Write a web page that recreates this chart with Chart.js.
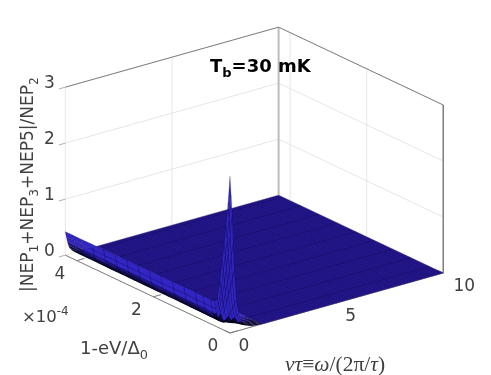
<!DOCTYPE html>
<html>
<head>
<meta charset="utf-8">
<style>
  html, body { margin: 0; padding: 0; background: #fff; }
  canvas { display: block; }
</style>
<script src="https://cdn.jsdelivr.net/npm/chart.js@4"></script>
</head>
<body>
<canvas id="surfaceChart" width="491" height="375"></canvas>
<script>
const nuTicks = [0, 5, 10];
const gapTicks = [0, 2, 4];
const nepTicks = [0, 1, 2, 3];
const nuMax = 10;
const gapMax = 4.3;
const nepMax = 3;

// columns and rows of the part of the surface that lifts off the floor
const wallNu = [0, 0.05, 0.1, 0.15, 0.2, 0.3, 0.4, 0.55, 0.75, 1, 1.5];
const wallGap = [0, 0.05, 0.1, 0.15, 0.2, 0.26, 0.33, 0.4, 0.5, 0.7, 0.9, 1.2, 1.5, 1.8, 2.1, 2.4, 2.7, 3, 3.3, 3.6, 3.9, 4.1, 4.3];
const wallNep = [
  [2.8, 2.45, 2.1, 1.6, 1.1, 0.55, 0.3, 0.14, 0.06, 0.02, 0],
  [2.3, 2.05, 1.75, 1.35, 0.95, 0.48, 0.26, 0.12, 0.05, 0.02, 0],
  [1.9, 1.65, 1.4, 1.08, 0.78, 0.38, 0.2, 0.1, 0.04, 0.015, 0],
  [1.55, 1.35, 1.12, 0.86, 0.62, 0.3, 0.16, 0.08, 0.03, 0.01, 0],
  [1.25, 1.05, 0.85, 0.65, 0.46, 0.22, 0.12, 0.06, 0.025, 0.01, 0],
  [0.85, 0.7, 0.56, 0.42, 0.3, 0.14, 0.08, 0.04, 0.015, 0.005, 0],
  [0.5, 0.4, 0.31, 0.23, 0.16, 0.08, 0.05, 0.02, 0.01, 0.003, 0],
  [0.44, 0.3, 0.2, 0.13, 0.08, 0.04, 0.02, 0.01, 0.005, 0.002, 0],
  [0.43, 0.3, 0.19, 0.13, 0.08, 0.04, 0.02, 0.01, 0.005, 0.002, 0],
  [0.43, 0.3, 0.2, 0.13, 0.08, 0.04, 0.02, 0.01, 0.005, 0.002, 0],
  [0.44, 0.3, 0.2, 0.14, 0.09, 0.045, 0.02, 0.01, 0.005, 0.002, 0],
  [0.44, 0.31, 0.2, 0.14, 0.09, 0.045, 0.025, 0.012, 0.005, 0.002, 0],
  [0.43, 0.3, 0.2, 0.14, 0.09, 0.05, 0.025, 0.012, 0.005, 0.002, 0],
  [0.43, 0.3, 0.2, 0.14, 0.09, 0.05, 0.025, 0.012, 0.005, 0.002, 0],
  [0.43, 0.3, 0.21, 0.14, 0.09, 0.05, 0.025, 0.012, 0.005, 0.002, 0],
  [0.43, 0.31, 0.21, 0.15, 0.1, 0.05, 0.025, 0.012, 0.005, 0.002, 0],
  [0.43, 0.31, 0.21, 0.15, 0.1, 0.05, 0.025, 0.012, 0.005, 0.002, 0],
  [0.42, 0.31, 0.21, 0.15, 0.1, 0.05, 0.03, 0.012, 0.005, 0.002, 0],
  [0.42, 0.31, 0.22, 0.15, 0.1, 0.05, 0.03, 0.015, 0.005, 0.002, 0],
  [0.42, 0.31, 0.22, 0.15, 0.1, 0.055, 0.03, 0.015, 0.005, 0.002, 0],
  [0.42, 0.32, 0.22, 0.16, 0.1, 0.055, 0.03, 0.015, 0.005, 0.002, 0],
  [0.42, 0.32, 0.22, 0.16, 0.11, 0.055, 0.03, 0.015, 0.005, 0.002, 0],
  [0.42, 0.32, 0.23, 0.16, 0.11, 0.06, 0.03, 0.015, 0.005, 0.002, 0]
];

// mesh lines of the flat part, where the surface lies on the floor
const flatNu = [1.5, 1.62, 1.75, 1.88, 2, 2.12, 2.25, 2.38, 2.5, 2.62, 2.75, 2.88, 3, 3.12, 3.25, 3.38, 3.5, 3.62, 3.75, 3.88, 4, 4.12, 4.25, 4.38, 4.5, 4.62, 4.75, 4.88, 5, 5.12, 5.25, 5.38, 5.5, 5.62, 5.75, 5.88, 6, 6.12, 6.25, 6.38, 6.5, 6.62, 6.75, 6.88, 7, 7.12, 7.25, 7.38, 7.5, 7.62, 7.75, 7.88, 8, 8.12, 8.25, 8.38, 8.5, 8.62, 8.75, 8.88, 9, 9.12, 9.25, 9.38, 9.5, 9.62, 9.75, 9.88, 10];
const flatGap = [0, 0.06, 0.12, 0.18, 0.24, 0.3, 0.36, 0.42, 0.48, 0.54, 0.6, 0.66, 0.72, 0.78, 0.84, 0.9, 0.96, 1.02, 1.08, 1.14, 1.2, 1.26, 1.32, 1.38, 1.44, 1.5, 1.56, 1.62, 1.68, 1.74, 1.8, 1.86, 1.92, 1.98, 2.04, 2.1, 2.16, 2.22, 2.28, 2.34, 2.4, 2.46, 2.52, 2.58, 2.64, 2.7, 2.76, 2.82, 2.88, 2.94, 3, 3.06, 3.12, 3.18, 3.24, 3.3, 3.36, 3.42, 3.48, 3.54, 3.6, 3.66, 3.72, 3.78, 3.84, 3.9, 3.96, 4.02, 4.08, 4.14, 4.2, 4.26, 4.3];
const stripeGap = [0.36, 0.84, 1.32, 1.8, 2.28, 2.76, 3.24, 3.72, 4.2];

const boxColor = '#7f7f7f';
const gridColor = '#e6e6e6';
const textColor = '#404040';
const faceColor = '#2a1c9e';

// fixed view of the box: where one unit of each data axis goes on the page
function view(nu, gap, nep) {
  return {
    x: 230 + 21.33 * nu - 38.3 * gap,
    y: 333 - 6 * nu - 18.1 * gap - 56 * nep
  };
}

function lineSet(points, color, width) {
  return {
    data: points,
    showLine: true,
    borderColor: color,
    borderWidth: width,
    pointRadius: 0,
    tension: 0,
    fill: false
  };
}

function polySet(points, face, edge, width) {
  return {
    data: points,
    showLine: true,
    borderColor: edge,
    backgroundColor: face,
    borderWidth: width,
    pointRadius: 0,
    tension: 0,
    fill: 'shape'
  };
}

// low narrow strips look dark in the reference because their mesh lines bunch up,
// the raised part keeps the bright blue
function quadColor(points, height) {
  let area = 0;
  for (let i = 0; i < 4; i++) {
    area += points[i].x * points[i + 1].y - points[i + 1].x * points[i].y;
  }
  area = Math.abs(area) / 2;
  const side = Math.hypot(points[3].x - points[0].x, points[3].y - points[0].y);
  let t = Math.min(1, area / 26, area / Math.max(side, 1) / 3.2);
  if (height > 0.25) t = 1;
  const r = Math.round(2 + 48 * t * t);
  const g = Math.round(1 + 36 * t * t);
  const b = Math.round(16 + 180 * t * t);
  return 'rgb(' + r + ',' + g + ',' + b + ')';
}

const sets = [];

// walls and floor grid, behind everything else
nuTicks.forEach(nu => {
  sets.push(lineSet([view(nu, gapMax, 0), view(nu, gapMax, nepMax)], gridColor, 1));
  sets.push(lineSet([view(nu, 0, 0), view(nu, gapMax, 0)], gridColor, 1));
});
gapTicks.forEach(gap => {
  sets.push(lineSet([view(nuMax, gap, 0), view(nuMax, gap, nepMax)], gridColor, 1));
  sets.push(lineSet([view(0, gap, 0), view(nuMax, gap, 0)], gridColor, 1));
});
nepTicks.forEach(nep => {
  sets.push(lineSet([view(0, gapMax, nep), view(nuMax, gapMax, nep), view(nuMax, 0, nep)], gridColor, 1));
});

// box edges and tick marks
sets.push(lineSet([view(nuMax, gapMax, 0), view(nuMax, gapMax, nepMax)], '#bdbdbd', 2));
sets.push(lineSet([view(0, gapMax, nepMax), view(nuMax, gapMax, nepMax), view(nuMax, 0, nepMax), view(nuMax, 0, 0)], boxColor, 1));
sets.push(lineSet([view(0, gapMax, 0), view(0, 0, 0), view(nuMax, 0, 0)], boxColor, 1));
nepTicks.forEach(nep => {
  sets.push(lineSet([view(0, gapMax, nep), view(-0.3, gapMax, nep)], '#b0b0b0', 1));
});
gapTicks.forEach(gap => {
  sets.push(lineSet([view(0, gap, 0), view(0.35, gap, 0)], boxColor, 1));
});
nuTicks.forEach(nu => {
  sets.push(lineSet([view(nu, 0, 0), view(nu, 0.15, 0)], boxColor, 1));
});

// flat sheet with its mesh
const flatStart = flatNu[0];
sets.push(polySet([view(flatStart, 0, 0), view(nuMax, 0, 0), view(nuMax, gapMax, 0), view(flatStart, gapMax, 0), view(flatStart, 0, 0)], faceColor, faceColor, 0));
const meshPoints = [];
flatNu.forEach(nu => {
  meshPoints.push(view(nu, 0, 0), view(nu, gapMax, 0), { x: NaN, y: NaN });
});
flatGap.forEach(gap => {
  meshPoints.push(view(flatStart, gap, 0), view(nuMax, gap, 0), { x: NaN, y: NaN });
});
sets.push(lineSet(meshPoints, 'rgba(5,0,50,0.4)', 0.6));
const stripePoints = [];
stripeGap.forEach(gap => {
  stripePoints.push(view(flatStart, gap, 0), view(nuMax, gap, 0), { x: NaN, y: NaN });
});
sets.push(lineSet(stripePoints, 'rgba(5,0,40,0.3)', 0.7));

// raised part, painted from the far end to the near corner
for (let i = wallNu.length - 2; i >= 0; i--) {
  for (let j = wallGap.length - 2; j >= 0; j--) {
    const quad = [
      view(wallNu[i], wallGap[j], wallNep[j][i]),
      view(wallNu[i + 1], wallGap[j], wallNep[j][i + 1]),
      view(wallNu[i + 1], wallGap[j + 1], wallNep[j + 1][i + 1]),
      view(wallNu[i], wallGap[j + 1], wallNep[j + 1][i]),
      view(wallNu[i], wallGap[j], wallNep[j][i])
    ];
    sets.push(polySet(quad, quadColor(quad, wallNep[j][i]), 'rgba(0,0,30,0.4)', 0.5));
  }
}

// writes a row of text pieces, sub and sup pieces are small and shifted
function writeRow(ctx, pieces, x, y, font, size, color) {
  ctx.fillStyle = color;
  ctx.textAlign = 'left';
  ctx.textBaseline = 'alphabetic';
  let pos = x;
  pieces.forEach(p => {
    const small = p.sub || p.sup;
    const px = small ? size * 0.72 : size;
    ctx.font = (p.style || '') + ' ' + px + 'px ' + (p.font || font);
    const shift = p.sub ? size * 0.3 : p.sup ? -size * 0.42 : 0;
    ctx.fillText(p.t, pos, y + shift);
    pos += ctx.measureText(p.t).width;
  });
}

const labelPlugin = {
  id: 'labelPlugin',
  afterDraw(chart) {
    const ctx = chart.ctx;
    const sx = chart.scales.x;
    const sy = chart.scales.y;
    const sans = '"DejaVu Sans"';
    const serif = '"Liberation Serif"';

    ctx.save();
    ctx.font = '17px ' + sans;
    ctx.fillStyle = textColor;
    ctx.textAlign = 'center';
    ctx.textBaseline = 'middle';
    nepTicks.forEach(nep => {
      const p = view(0, gapMax, nep);
      ctx.fillText(String(nep), sx.getPixelForValue(p.x) - 16, sy.getPixelForValue(p.y) - 4);
    });
    gapTicks.forEach(gap => {
      const p = view(0, gap, 0);
      ctx.fillText(String(gap), sx.getPixelForValue(p.x) - 17, sy.getPixelForValue(p.y) + 14);
    });
    nuTicks.forEach(nu => {
      const p = view(nu, 0, 0);
      const extra = nu === 10 ? 7 : 0;
      ctx.fillText(String(nu), sx.getPixelForValue(p.x) + 14 + extra, sy.getPixelForValue(p.y) + 14);
    });

    writeRow(ctx, [{ t: 'T', style: 'bold' }, { t: 'b', style: 'bold', sub: true }, { t: '=30 mK', style: 'bold' }], 210, 72, sans, 18, '#000');
    writeRow(ctx, [{ t: '1-eV/Δ' }, { t: '0', sub: true }], 80, 354, sans, 18, textColor);
    writeRow(ctx, [{ t: '×10' }, { t: '-4', sup: true }], 22, 322, sans, 16.5, textColor);
    writeRow(ctx, [
      { t: 'ντ', style: 'italic' }, { t: '≡' }, { t: 'ω', style: 'italic' }, { t: '/(2π/' },
      { t: 'τ', style: 'italic' }, { t: ')' }
    ], 285, 371, serif, 21.5, textColor);

    ctx.translate(33, 292);
    ctx.rotate(-Math.PI / 2);
    writeRow(ctx, [
      { t: '|NEP' }, { t: '1', sub: true }, { t: '+NEP' }, { t: '3', sub: true },
      { t: '+NEP5|/NEP' }, { t: '2', sub: true }
    ], 0, 0, sans, 17, textColor);
    ctx.restore();
  }
};

const ctx = document.getElementById('surfaceChart').getContext('2d');
const surfaceChart = new Chart(ctx, {
  type: 'scatter',
  data: { datasets: sets.slice().reverse() },
  options: {
    responsive: false,
    animation: false,
    layout: { padding: 0 },
    scales: {
      x: { type: 'linear', min: 0, max: 491, display: false },
      y: { type: 'linear', min: 0, max: 375, reverse: true, display: false }
    },
    plugins: {
      legend: { display: false },
      tooltip: { enabled: false }
    }
  },
  plugins: [labelPlugin]
});
</script>
</body>
</html>
